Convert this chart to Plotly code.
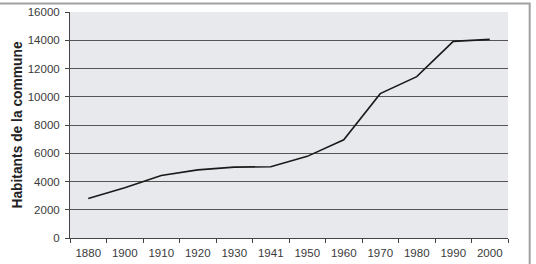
import plotly.graph_objects as go

years = ["1880", "1900", "1910", "1920", "1930", "1941", "1950", "1960", "1970", "1980", "1990", "2000"]
habitants = [2800, 3550, 4420, 4820, 5020, 5040, 5780, 6950, 10220, 11420, 13920, 14060]
y_ticks = [0, 2000, 4000, 6000, 8000, 10000, 12000, 14000, 16000]
y_ticktext = [str(v) for v in y_ticks]

fig = go.Figure()
fig.add_trace(go.Scatter(x=years, y=habitants, mode="lines",
                         line=dict(color="#1a1a1a", width=1.6), hoverinfo="skip"))

fig.update_layout(
    width=536, height=264,
    margin=dict(l=70, r=28, t=12, b=26),
    paper_bgcolor="white", plot_bgcolor="#E7E9EC",
    showlegend=False,
    font=dict(family="Liberation Sans, Arial, sans-serif", size=11.5, color="#3a3a3a"),
    xaxis=dict(type="category", tickson="boundaries", ticks="outside", ticklen=4,
               tickcolor="#444444", showline=True, linecolor="#444444", linewidth=1,
               showgrid=False, range=[-0.5, 11.5], tickfont=dict(size=11.5),
               ticklabelstandoff=4, automargin=False),
    yaxis=dict(range=[0, 16000], tickvals=y_ticks, ticktext=y_ticktext, ticks="outside", ticklen=4,
               tickcolor="#444444", showline=True, linecolor="#444444", linewidth=1,
               showgrid=True, gridcolor="#555555", gridwidth=1, zeroline=False,
               tickfont=dict(size=11.5), ticklabelstandoff=3, automargin=False,
               title=dict(text="<b>Habitants de la commune</b>", font=dict(size=13.8, color="#222222"),
                          standoff=1)),
    shapes=[dict(type="rect", xref="paper", yref="paper",
                 x0=-0.2, x1=1.0495, y0=-0.2, y1=1.038,
                 line=dict(color="#A0A0A0", width=2), fillcolor="rgba(0,0,0,0)", layer="below")],
)

fig.write_html("out.html")
